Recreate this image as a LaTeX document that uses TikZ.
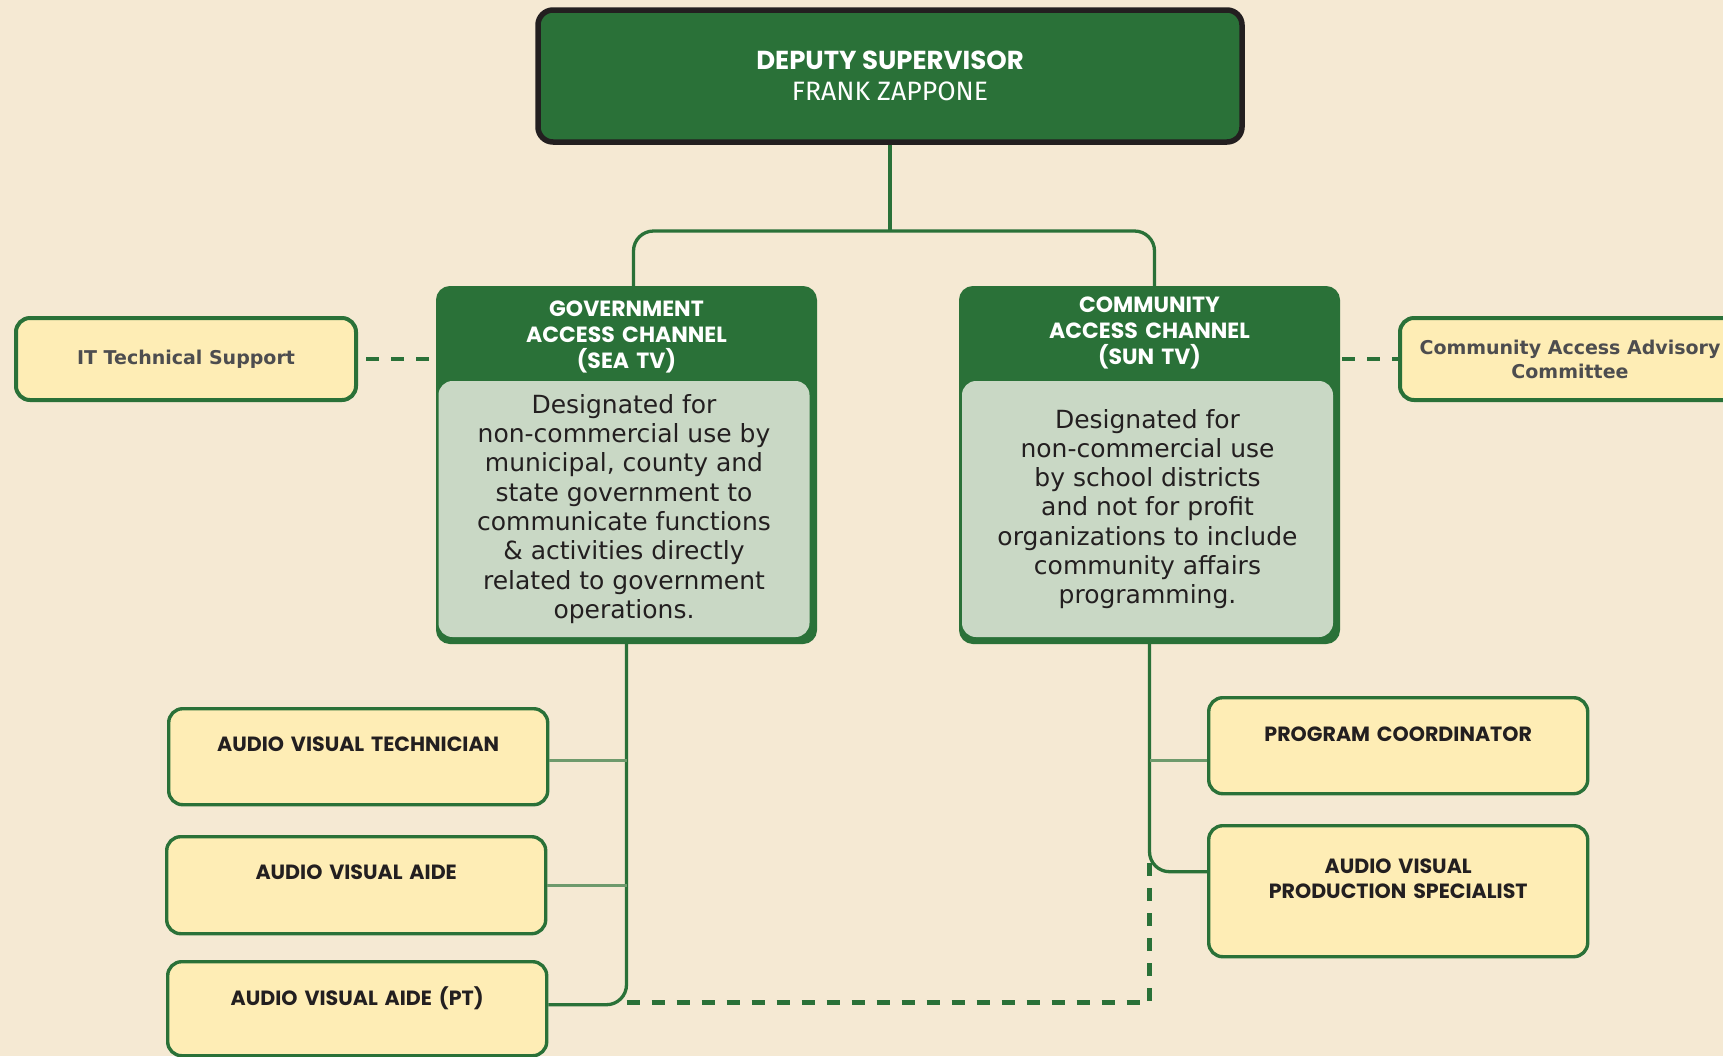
\documentclass[tikz,border=0pt]{standalone}
\usepackage{fontspec}
\setmainfont{DejaVu Sans}
\newfontfamily\headfont{Poppins}
\newfontfamily\namefont{Fira Sans}

\definecolor{paper}{HTML}{F5E9D3}
\definecolor{dkgreen}{HTML}{2A7138}
\definecolor{stubgreen}{HTML}{6E9A6C}
\definecolor{supedge}{HTML}{231F20}
\definecolor{sage}{HTML}{C9D8C5}
\definecolor{cream}{HTML}{FEEDB5}
\definecolor{ink}{HTML}{231F20}
\definecolor{slate}{HTML}{4D4D4F}

\begin{document}
\begin{tikzpicture}[x=0.5pt, y=-0.5pt,
        conn/.style={dkgreen, line width=1.65pt},
        stub/.style={stubgreen, line width=1.4pt},
        dashline/.style={dkgreen, line width=2.4pt, dash pattern=on 6.5pt off 6pt},
        chief/.style={draw=supedge, fill=dkgreen, line width=2.75pt, rounded corners=7.5pt, minimum width=352pt, minimum height=66pt, inner sep=0pt, align=center, text=white, font=\fontsize{13}{15.5}\selectfont},
        channel/.style={draw=dkgreen, fill=dkgreen, line width=2pt, rounded corners=6pt, inner sep=0pt, anchor=north west, align=center, text width=188.5pt, text=white, font=\headfont\bfseries\fontsize{11}{13}\selectfont},
        bodybox/.style={fill=sage, rounded corners=7pt, inner sep=0pt, minimum width=185.5pt, minimum height=128pt, align=center, text=ink, font=\fontsize{12.5}{14.65}\selectfont},
        sidebox/.style={draw=dkgreen, fill=cream, line width=2pt, rounded corners=7pt, inner sep=0pt, minimum width=170pt, minimum height=41pt, align=center, text=slate, font=\bfseries\fontsize{9.5}{12}\selectfont},
        staffbox/.style={draw=dkgreen, fill=cream, line width=1.7pt, rounded corners=7pt, inner sep=0pt, anchor=north west, align=center, text width=189.5pt, text=ink, font=\headfont\bfseries\fontsize{10.3}{12.5}\selectfont}]
        \useasboundingbox (0,0) rectangle (1723,1056);
        \clip (0,0) rectangle (1723,1056);
        \fill[paper] (0,0) rectangle (1723,1056);

        % Top box
        \node[chief] (sup) at (890,76) {{\headfont\bfseries DEPUTY SUPERVISOR}\\{\namefont\fontsize{13.3}{15.5}\selectfont FRANK ZAPPONE}};

        % Channels
        \node[channel, text height=14.25pt, text depth=162.75pt] (gov) at (436,286) {GOVERNMENT\\ACCESS CHANNEL\\(SEA TV)};
        \node[channel, text height=12.25pt, text depth=164.75pt] (com) at (959,286) {COMMUNITY\\ACCESS CHANNEL\\(SUN TV)};
        \node[bodybox] (govbody) at (624,509) {Designated for\\non-commercial use by\\municipal, county and\\state government to\\communicate functions\\\& activities directly\\related to government\\operations.};
        \node[bodybox] (combody) at (1147.5,509) {Designated for\\non-commercial use\\by school districts\\and not for profit\\organizations to include\\community affairs\\programming.};

        % Side boxes
        \node[sidebox] (itsup) at (186,359) {IT Technical Support};
        \node[sidebox] (advisory) at (1570,359) {Community Access Advisory\\Committee};

        % Staff under SEA TV
        \node[staffbox, text height=21.3pt, text depth=26.7pt] (avtech) at (167,707) {AUDIO VISUAL TECHNICIAN};
        \node[staffbox, text height=21.3pt, text depth=27.2pt] (avaide) at (165,835) {AUDIO VISUAL AIDE};
        \node[staffbox, text height=21.8pt, text depth=25.2pt] (avpt) at (166,960) {AUDIO VISUAL AIDE (PT)};

        % Staff under SUN TV
        \node[staffbox, text height=21.8pt, text depth=26.2pt] (progco) at (1207,696) {PROGRAM COORDINATOR};
        \node[staffbox, text height=23.8pt, text depth=41.7pt] (avps) at (1207,824) {AUDIO VISUAL\\PRODUCTION SPECIALIST};

        % Top connectors
        \coordinate (hub) at (890,231);
        \draw[conn] (sup.south) -- (hub);
        \draw[conn, rounded corners=10pt] ([xshift=3.5pt]gov.north) |- (hub) -| ([xshift=2.5pt]com.north);

        % Left spine
        \draw[conn, rounded corners=10pt] (gov.south) |- ([yshift=2pt]avpt.east);
        \draw[stub] ([yshift=-2pt]avtech.east) coordinate (techjoin) -- (techjoin -| gov.south);
        \draw[stub] (avaide.east) -- (avaide.east -| gov.south);

        % Right spine
        \draw[conn, rounded corners=10pt] (com.south) |- ([yshift=9.75pt]avps.west);
        \draw[stub] ([yshift=-7.5pt]progco.west) coordinate (pcjoin) -- (pcjoin -| com.south);

        % Dashed links
        \coordinate (dashtop) at (com.south |- 0,857);
        \draw[dashline] ([yshift=3pt]gov.south |- avpt.east) -| (dashtop);
        \draw[dashline, shorten <=4pt, shorten >=1pt] (itsup.east) -- (itsup.east -| gov.west);
        \draw[dashline, shorten <=1pt] (com.east |- advisory.west) -- (advisory.west);
    \end{tikzpicture}
\end{document}
